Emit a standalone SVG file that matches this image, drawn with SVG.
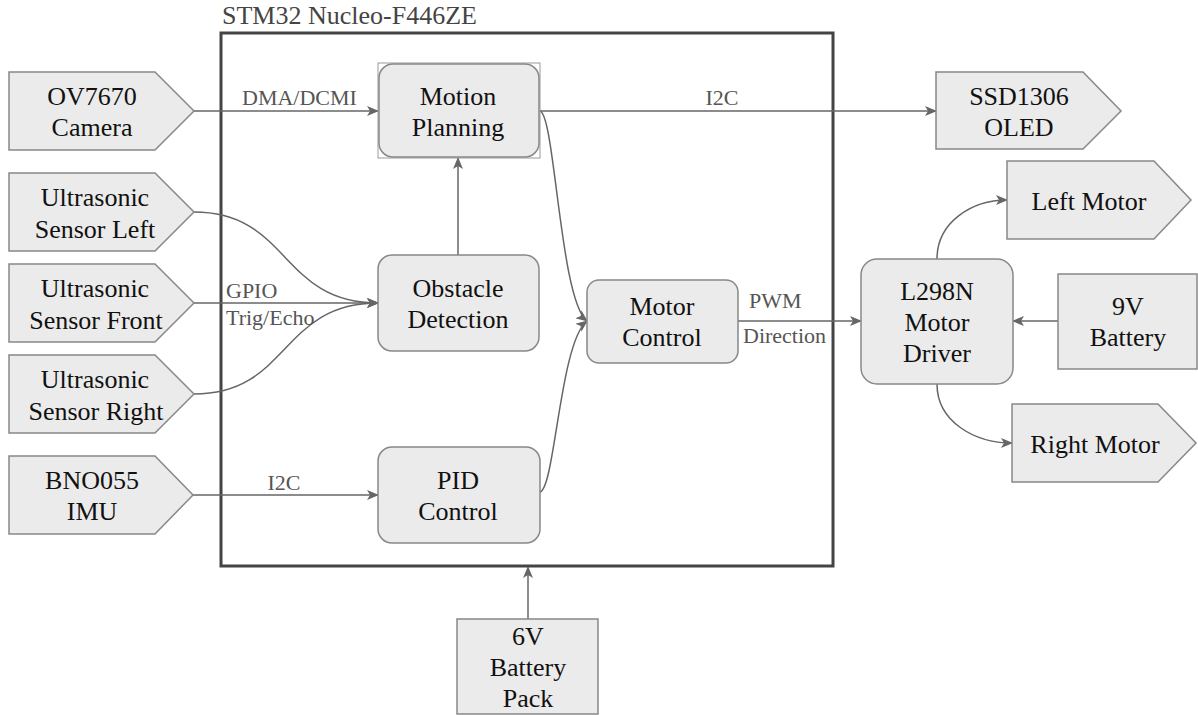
<svg xmlns="http://www.w3.org/2000/svg" width="1198" height="715" viewBox="0 0 1198 715">
<style>
.n{fill:#ebebeb;stroke:#888;stroke-width:1.5}
.t{font-family:'Liberation Serif',Tinos,'Times New Roman',Times,'DejaVu Serif',serif;font-size:26px;fill:#111;text-anchor:middle}
.l{font-family:'Liberation Serif',Tinos,'Times New Roman',Times,'DejaVu Serif',serif;font-size:22px;fill:#555}
.c{fill:none;stroke:#666;stroke-width:1.5;marker-end:url(#ah)}
</style>
<defs>
<marker id="ah" viewBox="0 0 12 10" refX="11" refY="5" markerWidth="12" markerHeight="10" markerUnits="userSpaceOnUse" orient="auto">
<path d="M0,0 L12,5 L0,10 L3,5 z" fill="#666"/>
</marker>
</defs>
<rect width="1198" height="715" fill="#fff"/>
<g id="stm32">
<rect x="221" y="33" width="612" height="533" fill="none" stroke="#444" stroke-width="3"/>
<text x="222" y="24" class="l" style="font-size:26px;fill:#444">STM32 Nucleo-F446ZE</text>
</g>
<g id="connectors">
<path class="c" d="M194,111 L378,111"/>
<path class="c" d="M540,111 L936,111"/>
<path class="c" d="M540,111 C555,115 560,300 587,321"/>
<path class="c" d="M540,492 C555,488 560,342 587,321"/>
<path class="c" d="M458,255 L458,158"/>
<path class="c" d="M194,212 C290,212 280,303 378,303"/>
<path class="c" d="M194,303 L378,303"/>
<path class="c" d="M194,394 C290,394 280,303 378,303"/>
<path class="c" d="M193,495 L378,495"/>
<path class="c" d="M738,321 L861,321"/>
<path class="c" d="M1058,321 L1013,321"/>
<path class="c" d="M937,259 C937,222 972,200 1007,200"/>
<path class="c" d="M937,384 C937,422 975,443 1012,443"/>
<path class="c" d="M528,619 L528,567"/>
<text class="l" x="242" y="105">DMA/DCMI</text>
<text class="l" x="722" y="105" text-anchor="middle">I2C</text>
<text class="l" x="226" y="298">GPIO</text>
<text class="l" x="226" y="325">Trig/Echo</text>
<text class="l" x="284" y="490" text-anchor="middle">I2C</text>
<text class="l" x="749" y="308">PWM</text>
<text class="l" x="743" y="343">Direction</text>
</g>
<g id="ov7670">
<path class="n" d="M9,72 H155 L194,111 L155,150 H9 Z"/>
<text class="t" x="92" y="105">OV7670</text>
<text class="t" x="92" y="136">Camera</text>
</g>
<g id="us-left">
<path class="n" d="M9,173 H155 L194,212 L155,251 H9 Z"/>
<text class="t" x="95" y="206">Ultrasonic</text>
<text class="t" x="95" y="238">Sensor Left</text>
</g>
<g id="us-front">
<path class="n" d="M9,264 H155 L194,303 L155,342 H9 Z"/>
<text class="t" x="95" y="297">Ultrasonic</text>
<text class="t" x="96" y="329">Sensor Front</text>
</g>
<g id="us-right">
<path class="n" d="M9,355 H155 L194,394 L155,433 H9 Z"/>
<text class="t" x="95" y="388">Ultrasonic</text>
<text class="t" x="96" y="420">Sensor Right</text>
</g>
<g id="bno055">
<path class="n" d="M9,456 H155 L193,495 L155,534 H9 Z"/>
<text class="t" x="92" y="489">BNO055</text>
<text class="t" x="92" y="520">IMU</text>
</g>
<g id="motion-planning">
<rect x="378" y="63" width="162" height="95" fill="none" stroke="#999" stroke-width="1"/>
<rect class="n" x="379" y="64" width="160" height="93" rx="14"/>
<text class="t" x="458" y="105">Motion</text>
<text class="t" x="458" y="136">Planning</text>
</g>
<g id="obstacle-detection">
<rect class="n" x="378" y="255" width="161" height="96" rx="14"/>
<text class="t" x="458" y="297">Obstacle</text>
<text class="t" x="458" y="328">Detection</text>
</g>
<g id="pid-control">
<rect class="n" x="378" y="447" width="162" height="96" rx="14"/>
<text class="t" x="458" y="489">PID</text>
<text class="t" x="458" y="520">Control</text>
</g>
<g id="motor-control">
<rect class="n" x="587" y="280" width="151" height="83" rx="12"/>
<text class="t" x="662" y="315">Motor</text>
<text class="t" x="662" y="346">Control</text>
</g>
<g id="ssd1306">
<path class="n" d="M936,72 H1083 L1121,111 L1083,149 H936 Z"/>
<text class="t" x="1019" y="105">SSD1306</text>
<text class="t" x="1019" y="136">OLED</text>
</g>
<g id="left-motor">
<path class="n" d="M1007,161 H1154 L1191,200 L1154,239 H1007 Z"/>
<text class="t" x="1089" y="210">Left Motor</text>
</g>
<g id="l298n">
<rect class="n" x="861" y="259" width="152" height="125" rx="16"/>
<text class="t" x="937" y="300">L298N</text>
<text class="t" x="937" y="331">Motor</text>
<text class="t" x="937" y="362">Driver</text>
</g>
<g id="battery-9v">
<rect class="n" x="1058" y="274" width="139" height="95"/>
<text class="t" x="1128" y="315">9V</text>
<text class="t" x="1128" y="346">Battery</text>
</g>
<g id="right-motor">
<path class="n" d="M1012,404 H1158 L1196,443 L1158,482 H1012 Z"/>
<text class="t" x="1095" y="453">Right Motor</text>
</g>
<g id="battery-6v">
<rect class="n" x="457" y="619" width="141" height="95"/>
<text class="t" x="528" y="645">6V</text>
<text class="t" x="528" y="676">Battery</text>
<text class="t" x="528" y="707">Pack</text>
</g>
</svg>
